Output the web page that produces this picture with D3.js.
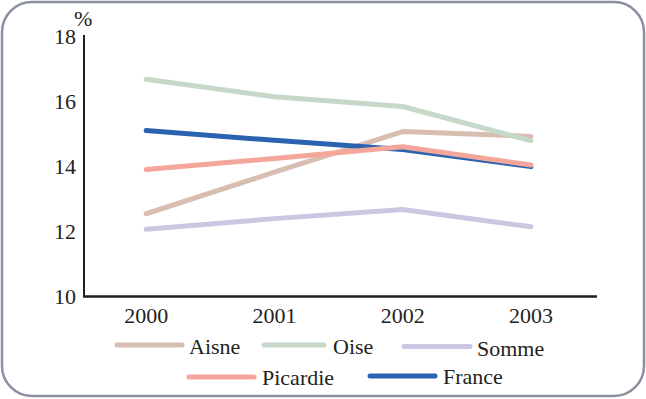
<!DOCTYPE html>
<html><head><meta charset="utf-8">
<script src="https://cdn.jsdelivr.net/npm/d3@7"></script>
</head><body>
<script>
const years = ["2000","2001","2002","2003"];
const seriesNames = ["Aisne","Oise","Somme","Picardie","France"];
const aisne = [12.5, 13.78, 15.03, 14.88];
const oise = [16.64, 16.1, 15.8, 14.75];
const somme = [12.02, 12.35, 12.63, 12.1];
const picardie = [13.86, 14.2, 14.56, 14.0];
const france = [15.06, 14.76, 14.48, 13.95];
const yTicks = [10, 12, 14, 16, 18];
const colors = ["#d8bdb1", "#c5d8c9", "#cbc7e3", "#f5a69b", "#2c63b0"];
const allValues = [aisne, oise, somme, picardie, france];

const W = 646, H = 399;
d3.select("body").style("margin", "0");
const svg = d3.select("body").append("svg").attr("width", W).attr("height", H)
  .style("display", "block");
svg.append("rect").attr("x", 2).attr("y", 2).attr("width", W - 4).attr("height", H - 5)
  .attr("rx", 30).attr("ry", 30).attr("fill", "#fff").attr("stroke", "#8a8fa2").attr("stroke-width", 2.5);

const x = d3.scalePoint().domain(years).range([82, 595]).padding(0.5);
const y = d3.scaleLinear().domain([10, 18]).range([295, 35]);

function txt(sel) {
  return sel.style("font-family", "Liberation Serif").style("font-size", "22px").style("fill", "#231f20");
}

// y axis line
svg.append("line").attr("x1", 84).attr("x2", 84).attr("y1", y(18)).attr("y2", y(10) + 1)
  .attr("stroke", "#231f20").attr("stroke-width", 2);
txt(svg.selectAll(".yt").data(yTicks).enter().append("text")
  .attr("x", 76).attr("y", d => y(d) + 9).attr("text-anchor", "end")).text(d => d);
txt(svg.append("text").attr("x", 74).attr("y", 26)).text("%");

// lines
const line = d3.line().x((d, i) => x(years[i])).y(d => y(d));
const order = [2, 0, 1, 4, 3];
order.forEach(k => {
  svg.append("path").datum(allValues[k]).attr("d", line).attr("fill", "none")
    .attr("stroke", colors[k]).attr("stroke-width", 5).attr("stroke-linecap", "round")
    .attr("stroke-linejoin", "round");
});

// x axis
svg.append("line").attr("x1", 83).attr("x2", 597).attr("y1", 296.5).attr("y2", 296.5)
  .attr("stroke", "#231f20").attr("stroke-width", 2.5);
txt(svg.selectAll(".xt").data(years).enter().append("text")
  .attr("x", d => x(d)).attr("y", 323).attr("text-anchor", "middle")).text(d => d);

// legend
const legendPos = [
  {x1: 117, x2: 182, y: 345}, {x1: 264, x2: 324, y: 345}, {x1: 404, x2: 470, y: 346.5},
  {x1: 189, x2: 254, y: 377}, {x1: 370, x2: 435, y: 376}
];
const legendTextX = [189, 333, 477, 262, 443];
const legendTextY = [354, 354, 356, 385, 384];
seriesNames.forEach((n, k) => {
  const p = legendPos[k];
  svg.append("line").attr("x1", p.x1).attr("x2", p.x2).attr("y1", p.y).attr("y2", p.y)
    .attr("stroke", colors[k]).attr("stroke-width", 5).attr("stroke-linecap", "round");
  txt(svg.append("text").attr("x", legendTextX[k]).attr("y", legendTextY[k])).text(n);
});
</script>
</body></html>
